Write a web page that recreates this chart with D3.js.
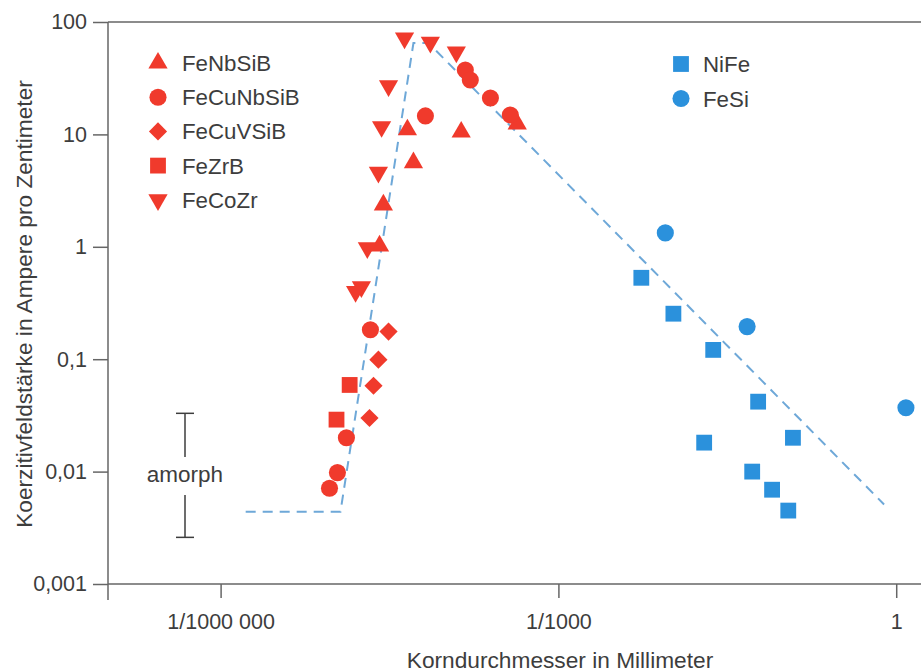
<!DOCTYPE html>
<html>
<head>
<meta charset="utf-8">
<script src="https://cdn.jsdelivr.net/npm/d3@7"></script>
<style>
  body { margin: 0; background: #fff; }
  svg { display: block; font-family: "Liberation Sans", Arial, sans-serif; }
</style>
</head>
<body>
<div class="chart"></div>
<script>
let width = 921
let height = 672

// values: [Korndurchmesser mm, Koerzitivfeldstärke A/cm]
let feNbSiB   = [[2.79e-5, 2.36], [2.58e-5, 1.02], [5.16e-5, 5.6], [4.56e-5, 11], [1.37e-4, 10.5], [4.31e-4, 12.4]]
let feCuNbSiB = [[6.59e-5, 14.6], [1.49e-4, 37.4], [1.65e-4, 30.5], [2.49e-4, 21.1], [3.74e-4, 14.9],
                 [2.14e-5, 0.183], [1.31e-5, 0.020], [1.09e-5, 0.0098], [9.27e-6, 0.0071]]
let feCuVSiB  = [[3.10e-5, 0.176], [2.52e-5, 0.099], [2.28e-5, 0.058], [2.10e-5, 0.030]]
let feZrB     = [[1.40e-5, 0.059], [1.07e-5, 0.029]]
let feCoZr    = [[4.30e-5, 72], [7.29e-5, 66], [1.24e-4, 54], [3.10e-5, 27], [2.69e-5, 11.7],
                 [2.52e-5, 4.6], [2.01e-5, 0.98], [1.78e-5, 0.44], [1.58e-5, 0.40]]
let niFe      = [[5.45e-3, 0.53], [0.0105, 0.254], [0.0237, 0.121], [0.0594, 0.0419], [0.0197, 0.0181],
                 [0.121, 0.020], [0.0526, 0.010], [0.079, 0.0069], [0.110, 0.0045]]
let feSi      = [[0.0089, 1.33], [0.0474, 0.195], [1.22, 0.037]]

// trend line (dashed)
let trend = [[1.67e-6, 0.0044], [1.16e-5, 0.0044], [5.16e-5, 65], [7.02e-5, 65], [0.78, 0.0051]]

// amorph range
let amorphRange = [0.0026, 0.033]

let yTicks = [0.001, 0.01, 0.1, 1, 10, 100]
let yTickLabels = ["0,001", "0,01", "0,1", "1", "10", "100"]
let xTicks = [1e-6, 1e-3, 1]
let xTickLabels = ["1/1000 000", "1/1000", "1"]

let red = "#f03a2c"
let blue = "#2b91dc"
let ink = "#3d3d3d"
let axisColor = "#666"

let series = [
    { name: "FeNbSiB",   data: feNbSiB,   shape: "up",      color: red },
    { name: "FeCuNbSiB", data: feCuNbSiB, shape: "circle",  color: red },
    { name: "FeCuVSiB",  data: feCuVSiB,  shape: "diamond", color: red },
    { name: "FeZrB",     data: feZrB,     shape: "square",  color: red },
    { name: "FeCoZr",    data: feCoZr,    shape: "down",    color: red },
    { name: "NiFe",      data: niFe,      shape: "square",  color: blue },
    { name: "FeSi",      data: feSi,      shape: "circle",  color: blue }
]

let x = d3.scaleLog().domain([1e-7, 1.66]).range([108, 921])
let y = d3.scaleLog().domain([0.001, 100]).range([584, 22])

let symbolFor = {
    up:      { type: d3.symbolTriangle, size: 160, rot: 0 },
    down:    { type: d3.symbolTriangle, size: 160, rot: 180 },
    circle:  { type: d3.symbolCircle,   size: 230, rot: 0 },
    square:  { type: d3.symbolSquare,   size: 250, rot: 0 },
    diamond: { type: d3.symbolSquare,   size: 165, rot: 45 }
}
function symbolPath(shape) {
    return d3.symbol().type(symbolFor[shape].type).size(symbolFor[shape].size)()
}

const svg = d3.create("svg")
    .attr("width", width)
    .attr("height", height)
    .attr("viewBox", [0, 0, width, height])

// axes
svg.append("g")
    .attr("transform", `translate(${x.range()[0]},0)`)
    .call(d3.axisLeft(y).tickValues(yTicks).tickFormat((d, i) => yTickLabels[i]).tickSize(15).tickPadding(6).tickSizeOuter(0))
    .call(g => g.select(".domain").remove())
    .call(g => g.selectAll("line").attr("stroke", axisColor).attr("stroke-width", 1.5))
    .call(g => g.selectAll("text").attr("fill", ink).attr("font-size", 21.5).attr("font-family", "Liberation Sans, Arial, sans-serif"))

svg.append("g")
    .attr("transform", `translate(0,${y.range()[0]})`)
    .call(d3.axisBottom(x).tickValues(xTicks).tickFormat((d, i) => xTickLabels[i]).tickSize(14).tickPadding(16).tickSizeOuter(0))
    .call(g => g.select(".domain").remove())
    .call(g => g.selectAll("line").attr("stroke", axisColor).attr("stroke-width", 1.5))
    .call(g => g.selectAll("text").attr("fill", ink).attr("font-size", 21.5).attr("font-family", "Liberation Sans, Arial, sans-serif"))

// frame lines
let frame = svg.append("g").attr("stroke", axisColor).attr("stroke-width", 1.5)
frame.append("line").attr("x1", x.range()[0]).attr("x2", width).attr("y1", y(100)).attr("y2", y(100))
frame.append("line").attr("x1", x.range()[0]).attr("x2", width).attr("y1", y(0.001)).attr("y2", y(0.001))
frame.append("line").attr("x1", x.range()[0]).attr("x2", x.range()[0]).attr("y1", y(100)).attr("y2", y(0.001) + 16)

// axis titles
svg.append("text")
    .attr("x", 560).attr("y", 668)
    .attr("text-anchor", "middle")
    .attr("font-size", 22.7)
    .attr("fill", ink)
    .text("Korndurchmesser in Millimeter")

svg.append("text")
    .attr("transform", "translate(32,304) rotate(-90)")
    .attr("text-anchor", "middle")
    .attr("font-size", 22.7)
    .attr("fill", ink)
    .text("Koerzitivfeldstärke in Ampere pro Zentimeter")

// trend line
svg.append("path")
    .datum(trend)
    .attr("fill", "none")
    .attr("stroke", "#6ea8d8")
    .attr("stroke-width", 2)
    .attr("stroke-dasharray", "10 7")
    .attr("d", d3.line().x(d => x(d[0])).y(d => y(d[1])))

// amorph bar
let ax = 185
let amorph = svg.append("g").attr("stroke", ink).attr("stroke-width", 1.5)
amorph.append("line").attr("x1", ax).attr("x2", ax).attr("y1", y(amorphRange[1])).attr("y2", 457)
amorph.append("line").attr("x1", ax).attr("x2", ax).attr("y1", 495).attr("y2", y(amorphRange[0]))
amorph.append("line").attr("x1", ax - 9).attr("x2", ax + 9).attr("y1", y(amorphRange[1])).attr("y2", y(amorphRange[1]))
amorph.append("line").attr("x1", ax - 9).attr("x2", ax + 9).attr("y1", y(amorphRange[0])).attr("y2", y(amorphRange[0]))
svg.append("text")
    .attr("x", ax).attr("y", 482)
    .attr("text-anchor", "middle")
    .attr("font-size", 22.5)
    .attr("fill", ink)
    .text("amorph")

// points
series.forEach(s => {
    svg.append("g")
        .selectAll("path")
        .data(s.data)
        .join("path")
        .attr("fill", s.color)
        .attr("d", symbolPath(s.shape))
        .attr("transform", d => `translate(${x(d[0])},${y(d[1])}) rotate(${symbolFor[s.shape].rot})`)
})

// legends
let legendLeft = series.slice(0, 5)
let legendRight = series.slice(5)

function drawLegend(items, sx, tx, y0, step) {
    let g = svg.append("g")
    items.forEach((s, i) => {
        let cy = y0 + i * step
        g.append("path")
            .attr("fill", s.color)
            .attr("d", symbolPath(s.shape))
            .attr("transform", `translate(${sx},${cy}) rotate(${symbolFor[s.shape].rot})`)
        g.append("text")
            .attr("x", tx).attr("y", cy + 8)
            .attr("font-size", 22.3)
            .attr("fill", ink)
            .text(s.name)
    })
}
drawLegend(legendLeft, 158, 182, 63, 34.2)
drawLegend(legendRight, 681, 703, 64, 34.5)

d3.select(".chart").node().append(svg.node())
</script>
</body>
</html>
